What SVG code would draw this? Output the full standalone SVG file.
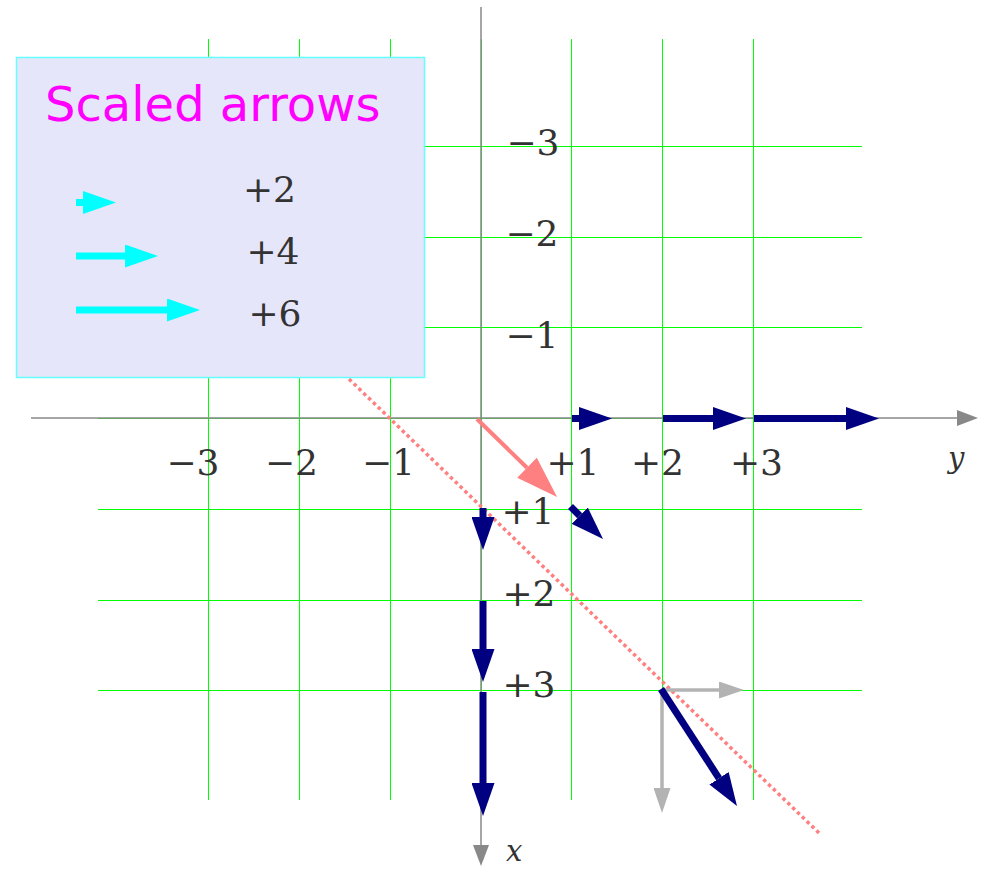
<svg xmlns="http://www.w3.org/2000/svg" width="986" height="869" viewBox="0 0 986 869">
<defs>
<style>
.grid{stroke:#00ff00;stroke-width:1;fill:none}
.axis{stroke:#888888;stroke-width:1.5;fill:none}
.navy{stroke:#000080;stroke-width:7;fill:none}
.cyan{stroke:#00ffff;stroke-width:7;fill:none}
.lgray{stroke:#b3b3b3;stroke-width:3.5;fill:none}
.red{stroke:#ff8080;stroke-width:4;fill:none}
.lbl{font-family:"DejaVu Serif","Liberation Serif",serif;font-size:36px;fill:#333333;text-anchor:middle}
.var{font-family:"DejaVu Serif","Liberation Serif",serif;font-size:29px;font-style:italic;fill:#333333}
</style>
<marker id="hNavy" markerUnits="userSpaceOnUse" markerWidth="33" markerHeight="23" viewBox="0 0 33 23" refX="0" refY="11.5" orient="auto"><path d="M0,0 L33,11.5 L0,23 z" fill="#000080"/></marker>
<marker id="hCyan" markerUnits="userSpaceOnUse" markerWidth="33" markerHeight="23" viewBox="0 0 33 23" refX="0" refY="11.5" orient="auto"><path d="M0,0 L33,11.5 L0,23 z" fill="#00ffff"/></marker>
<marker id="hAxis" markerUnits="userSpaceOnUse" markerWidth="21" markerHeight="16" viewBox="0 0 21 16" refX="0" refY="8" orient="auto"><path d="M0,0 L21,8 L0,16 z" fill="#888888"/></marker>
<marker id="hGray" markerUnits="userSpaceOnUse" markerWidth="25" markerHeight="17" viewBox="0 0 25 17" refX="0" refY="8.5" orient="auto"><path d="M0,0 L25,8.5 L0,17 z" fill="#b3b3b3"/></marker>
<marker id="hRed" markerUnits="userSpaceOnUse" markerWidth="42" markerHeight="28" viewBox="0 0 42 28" refX="0" refY="14" orient="auto"><path d="M0,0 L42,14 L0,28 z" fill="#ff8080"/></marker>
</defs>
<rect x="0" y="0" width="986" height="869" fill="#ffffff"/>
<g id="grid">
<line class="grid" x1="208.5" y1="39" x2="208.5" y2="800"/>
<line class="grid" x1="299.5" y1="39" x2="299.5" y2="800"/>
<line class="grid" x1="390.5" y1="39" x2="390.5" y2="800"/>
<line class="grid" x1="481.5" y1="39" x2="481.5" y2="800"/>
<line class="grid" x1="571.5" y1="39" x2="571.5" y2="800"/>
<line class="grid" x1="662.5" y1="39" x2="662.5" y2="800"/>
<line class="grid" x1="753.5" y1="39" x2="753.5" y2="800"/>
<line class="grid" x1="98" y1="146.5" x2="862" y2="146.5"/>
<line class="grid" x1="98" y1="237.5" x2="862" y2="237.5"/>
<line class="grid" x1="98" y1="327.5" x2="862" y2="327.5"/>
<line class="grid" x1="98" y1="418.5" x2="862" y2="418.5"/>
<line class="grid" x1="98" y1="509.5" x2="862" y2="509.5"/>
<line class="grid" x1="98" y1="600.5" x2="862" y2="600.5"/>
<line class="grid" x1="98" y1="690.5" x2="862" y2="690.5"/>
</g>
<g id="axes">
<line class="axis" x1="31" y1="418" x2="957" y2="418" marker-end="url(#hAxis)"/>
<line class="axis" x1="481" y1="7" x2="481" y2="845" marker-end="url(#hAxis)"/>
</g>
<g id="labels">
<text class="lbl" x="533" y="155">−3</text>
<text class="lbl" x="532" y="246">−2</text>
<text class="lbl" x="532" y="348">−1</text>
<text class="lbl" x="193" y="475">−3</text>
<text class="lbl" x="291.5" y="475">−2</text>
<text class="lbl" x="388.5" y="475">−1</text>
<text class="lbl" x="573" y="475">+1</text>
<text class="lbl" x="657.5" y="475">+2</text>
<text class="lbl" x="756.5" y="475">+3</text>
<text class="lbl" x="528" y="524">+1</text>
<text class="lbl" x="529" y="606">+2</text>
<text class="lbl" x="529" y="697">+3</text>
<text class="var" x="948" y="468">y</text>
<text class="var" x="506" y="861">x</text>
</g>
<g id="connectors">
<line x1="349" y1="379" x2="819" y2="833" stroke="#ff8080" stroke-width="3.5" stroke-dasharray="3.5 3.2"/>
<line class="red" x1="477" y1="419" x2="527" y2="467.7" marker-end="url(#hRed)"/>
<line class="navy" x1="572" y1="418.5" x2="579" y2="418.5" marker-end="url(#hNavy)"/>
<line class="navy" x1="663" y1="418.5" x2="713" y2="418.5" marker-end="url(#hNavy)"/>
<line class="navy" x1="754" y1="418.5" x2="846" y2="418.5" marker-end="url(#hNavy)"/>
<line class="navy" x1="483" y1="508" x2="483" y2="517" marker-end="url(#hNavy)"/>
<line class="navy" x1="483" y1="601" x2="483" y2="649" marker-end="url(#hNavy)"/>
<line class="navy" x1="483" y1="692" x2="483" y2="783" marker-end="url(#hNavy)"/>
<line class="navy" x1="570.5" y1="506.5" x2="579.7" y2="515.7" marker-end="url(#hNavy)"/>
<line class="lgray" x1="662" y1="690" x2="719" y2="690" marker-end="url(#hGray)"/>
<line class="lgray" x1="662" y1="690" x2="662" y2="788" marker-end="url(#hGray)"/>
<line class="navy" x1="661" y1="689" x2="719" y2="778.3" marker-end="url(#hNavy)"/>
</g>
<g id="legend">
<rect x="16.5" y="57.5" width="408" height="320" fill="#e6e6fa" stroke="#66ffff" stroke-width="1.5"/>
<text x="45" y="121" font-family="'DejaVu Sans','Liberation Sans',sans-serif" font-size="48" fill="#ff00ff">Scaled arrows</text>
<line class="cyan" x1="76" y1="202.5" x2="83" y2="202.5" marker-end="url(#hCyan)"/>
<line class="cyan" x1="76" y1="256" x2="125" y2="256" marker-end="url(#hCyan)"/>
<line class="cyan" x1="76" y1="310" x2="167" y2="310" marker-end="url(#hCyan)"/>
<text class="lbl" x="269.5" y="202">+2</text>
<text class="lbl" x="273" y="264">+4</text>
<text class="lbl" x="275" y="326">+6</text>
</g>
</svg>
